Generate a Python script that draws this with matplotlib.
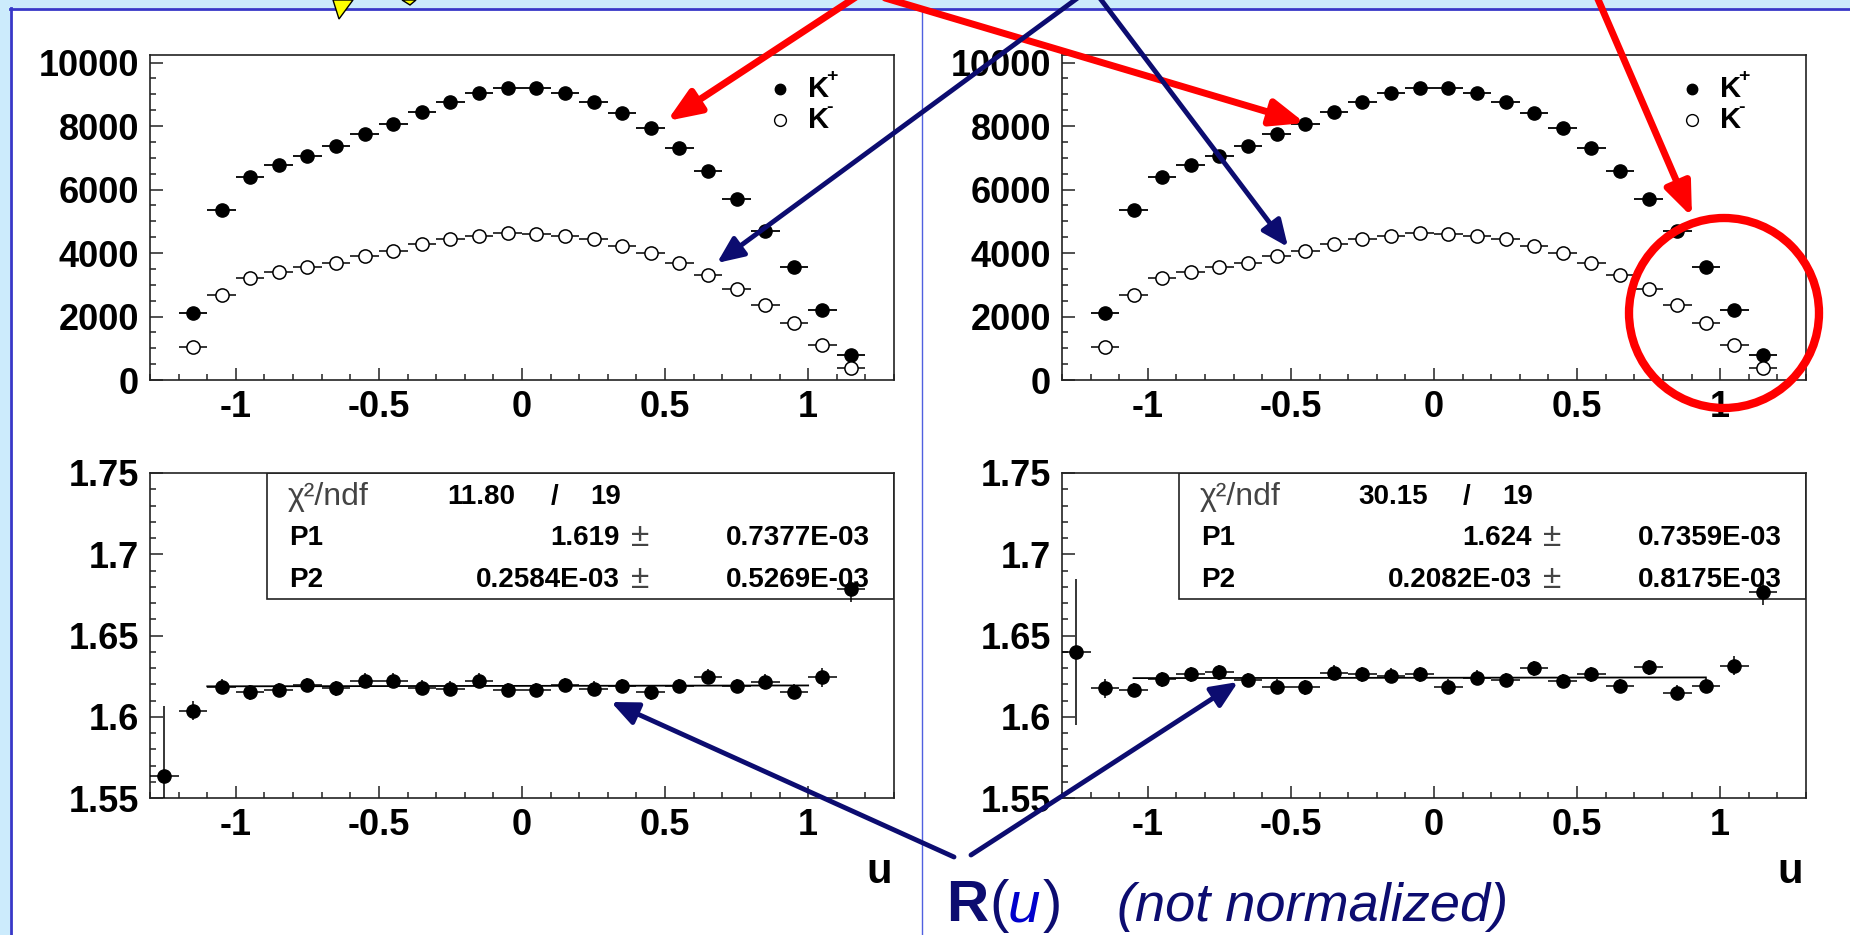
import matplotlib.pyplot as plt
from matplotlib.patches import Rectangle, Ellipse, Polygon
from matplotlib.ticker import FixedLocator, MultipleLocator

plt.rcParams['font.family'] = ['Liberation Sans', 'DejaVu Sans']
plt.rcParams['axes.unicode_minus'] = False

# --- data -------------------------------------------------------------
u_bins = [-1.15, -1.05, -0.95, -0.85, -0.75, -0.65, -0.55, -0.45, -0.35, -0.25, -0.15, -0.05,
          0.05, 0.15, 0.25, 0.35, 0.45, 0.55, 0.65, 0.75, 0.85, 0.95, 1.05, 1.15]
n_kplus = [2100, 5350, 6400, 6770, 7070, 7370, 7740, 8060, 8430, 8770, 9030, 9190,
           9190, 9050, 8770, 8400, 7930, 7300, 6580, 5690, 4700, 3550, 2200, 790]
n_kminus = [1050, 2680, 3220, 3410, 3570, 3700, 3910, 4070, 4270, 4430, 4540, 4620,
            4600, 4550, 4430, 4230, 3990, 3700, 3310, 2860, 2360, 1790, 1100, 390]

u_ratio = [-1.25] + u_bins
ratio_left = [1.5634, 1.6037, 1.6185, 1.6150, 1.6165, 1.6195, 1.6175, 1.6222, 1.6222, 1.6180,
              1.6173, 1.6222, 1.6165, 1.6165, 1.6195, 1.6173, 1.6190, 1.6150, 1.6190, 1.6247,
              1.6190, 1.6216, 1.6154, 1.6243, 1.6786]
ratio_left_err = [0.043, 0.006, 0.0045, 0.0045, 0.0045, 0.0045, 0.0045, 0.0045, 0.0045, 0.0045,
                  0.0045, 0.0045, 0.0045, 0.0045, 0.0045, 0.0045, 0.0045, 0.0045, 0.0045, 0.0045,
                  0.0045, 0.0045, 0.0045, 0.006, 0.008]
ratio_right = [1.6400, 1.6175, 1.6165, 1.6230, 1.6261, 1.6274, 1.6226, 1.6185, 1.6181, 1.6272,
               1.6261, 1.6253, 1.6261, 1.6185, 1.6241, 1.6226, 1.6298, 1.6220, 1.6261, 1.6189,
               1.6305, 1.6148, 1.6191, 1.6315, 1.6765]
ratio_right_err = [0.045, 0.006, 0.0045, 0.0045, 0.0045, 0.0045, 0.0045, 0.0045, 0.0045, 0.0045,
                   0.0045, 0.0045, 0.0045, 0.0045, 0.0045, 0.0045, 0.0045, 0.0045, 0.0045, 0.0045,
                   0.0045, 0.0045, 0.0045, 0.006, 0.008]

# pol1 fit results: chi2, ndf, P1, P1 error, P2, P2 error
fit_left = [11.80, 19, 1.619, 0.7377e-3, 0.2584e-3, 0.5269e-3]
fit_right = [30.15, 19, 1.624, 0.7359e-3, 0.2082e-3, 0.8175e-3]
fit_range_left = [-1.1, 1.0]
fit_range_right = [-1.05, 0.95]

u_ticks = [-1, -0.5, 0, 0.5, 1]
u_tick_labels = ['-1', '-0.5', '0', '0.5', '1']
count_ticks = [0, 2000, 4000, 6000, 8000, 10000]
count_tick_labels = ['0', '2000', '4000', '6000', '8000', '10000']
ratio_ticks = [1.55, 1.6, 1.65, 1.7, 1.75]
ratio_tick_labels = ['1.55', '1.6', '1.65', '1.7', '1.75']

# --- page -------------------------------------------------------------
W, H = 1850, 935
NAVY = '#0c0c70'
fig = plt.figure(figsize=(W / 100, H / 100), dpi=100, facecolor='#ccebfc')

bg = fig.add_axes([0, 0, 1, 1], zorder=0)
bg.set_xlim(0, W)
bg.set_ylim(H, 0)
bg.axis('off')
bg.add_patch(Rectangle((10, 8), W - 10, H - 8, facecolor='white', edgecolor='none'))
bg.plot([10, W], [8.5, 8.5], color='#3838c8', lw=2)
bg.plot([10.5, 10.5], [8, H], color='#3838c8', lw=2)
bg.plot([922, 922], [8, H], color='#5060e0', lw=1)


def px_rect(x0, top, w, h):
    return [x0 / W, (H - top - h) / H, w / W, h / H]


def style_axes(ax, yticks, ylabels, yminor):
    ax.set_xlim(-1.3, 1.3)
    ax.xaxis.set_major_locator(FixedLocator(u_ticks))
    ax.set_xticklabels(u_tick_labels)
    ax.xaxis.set_minor_locator(MultipleLocator(0.1))
    ax.yaxis.set_major_locator(FixedLocator(yticks))
    ax.set_yticklabels(ylabels)
    ax.yaxis.set_minor_locator(MultipleLocator(yminor))
    ax.tick_params(which='both', direction='in', top=False, right=False,
                   width=1.1, labelsize=26, color='#222222')
    ax.tick_params(which='major', length=9)
    ax.tick_params(which='minor', length=4.5)
    ax.tick_params(axis='x', pad=7)
    ax.tick_params(axis='y', pad=8)
    for lab in ax.get_xticklabels() + ax.get_yticklabels():
        lab.set_fontweight('bold')
    for s in ax.spines.values():
        s.set_linewidth(1.2)
        s.set_color('#222222')


def legend_entry(ax, y, filled, sign):
    ax.plot([0.847], [y], 'o', ms=7.5 if filled else 8.5, mec='black', mew=1.0,
            mfc='black' if filled else 'white', transform=ax.transAxes, clip_on=False)
    ax.text(0.885, y, 'K', fontsize=21, fontweight='bold', va='center', transform=ax.transAxes)
    ax.text(0.909, y + 0.04, sign, fontsize=14, fontweight='bold', va='center',
            transform=ax.transAxes)


def counts_panel(x0):
    ax = fig.add_axes(px_rect(x0, 55, 744, 325), zorder=1)
    ax.set_ylim(0, 10240)
    style_axes(ax, count_ticks, count_tick_labels, 500)
    ax.errorbar(u_bins, n_kplus, xerr=0.05, fmt='o', color='black', ms=9.5,
                elinewidth=1.3, capsize=0, zorder=3)
    ax.errorbar(u_bins, n_kminus, xerr=0.05, fmt='o', color='black', mfc='white',
                mec='black', mew=1.1, ms=9.5, elinewidth=1.1, capsize=0, zorder=3)
    legend_entry(ax, 0.895, True, '+')
    legend_entry(ax, 0.80, False, '-')
    return ax


def ratio_panel(x0, vals, errs, fit, fit_range):
    ax = fig.add_axes(px_rect(x0, 473, 744, 325), zorder=1)
    ax.set_ylim(1.55, 1.75)
    style_axes(ax, ratio_ticks, ratio_tick_labels, 0.01)
    chi2, ndf, p1, p1e, p2, p2e = fit
    ax.plot(fit_range, [p1 + p2 * x for x in fit_range], color='black', lw=1.3, zorder=2)
    ax.errorbar(u_ratio, vals, xerr=0.05, yerr=errs, fmt='o', color='black', ms=9.5,
                elinewidth=1.1, capsize=0, zorder=3)
    # fit statistics box
    ax.add_patch(Rectangle((0.157, 0.612), 0.843, 0.388, transform=ax.transAxes,
                           facecolor='white', edgecolor='#222222', lw=1.2, zorder=1))
    kw = dict(transform=ax.transAxes, va='center', fontsize=20, zorder=2)
    ax.text(0.185, 0.926, 'χ²/ndf', color='#444444', **{**kw, 'fontsize': 23})
    ax.text(0.445, 0.926, f'{chi2:.2f}', ha='center', fontweight='bold', **kw)
    ax.text(0.544, 0.926, '/', ha='center', fontweight='bold', **kw)
    ax.text(0.612, 0.926, f'{ndf}', ha='center', fontweight='bold', **kw)
    for y, name, v, e in [(0.80, 'P1', f'{p1:.3f}', f'{p1e * 1e3:.4f}E-03'),
                          (0.671, 'P2', f'{p2 * 1e3:.4f}E-03', f'{p2e * 1e3:.4f}E-03')]:
        ax.text(0.187, y, name, fontweight='bold', **kw)
        ax.text(0.631, y, v, ha='right', fontweight='bold', **kw)
        ax.text(0.659, y, '±', ha='center', color='#444444', **{**kw, 'fontsize': 24})
        ax.text(0.968, y, e, ha='right', fontweight='bold', **kw)
    return ax


counts_panel(150)
counts_panel(1062)
ratio_panel(150, ratio_left, ratio_left_err, fit_left, fit_range_left)
ratio_panel(1062, ratio_right, ratio_right_err, fit_right, fit_range_right)

# --- annotations on top of everything ----------------------------------
ov = fig.add_axes([0, 0, 1, 1], zorder=5)
ov.set_xlim(0, W)
ov.set_ylim(H, 0)
ov.axis('off')

for x in [879, 1790]:
    ov.text(x, 883, 'u', ha='center', va='baseline', fontsize=30, fontweight='bold')


def arrow(start, tip, color, lw, hl, hw):
    ov.annotate('', xy=tip, xytext=start,
                arrowprops=dict(arrowstyle=f'-|>,head_length={hl},head_width={hw}',
                                color=color, lw=lw, shrinkA=0, shrinkB=0))


arrow((859, -5), (667, 121), 'red', 5, 2.0, 0.8)
arrow((885, -2), (1305, 123), 'red', 5, 2.0, 0.8)
arrow((1597, -3), (1692, 217), 'red', 5, 2.0, 0.8)
arrow((1079, -3), (717, 263), NAVY, 3.5, 1.6, 0.7)
arrow((1099, -3), (1288, 247), NAVY, 3.5, 1.6, 0.7)
arrow((954, 857), (611, 702), NAVY, 3.5, 1.6, 0.7)
arrow((971, 855), (1238, 682), NAVY, 3.5, 1.6, 0.7)

ov.add_patch(Ellipse((1724, 313), 190, 190, fill=False, edgecolor='red', lw=6))

# callout tips reaching in from above
ov.add_patch(Polygon([(333, 0), (353, 0), (339, 19)], closed=True,
                     facecolor='#ffff00', edgecolor='black', lw=1))
ov.add_patch(Polygon([(402, 0), (416, 0), (410, 5)], closed=True,
                     facecolor='#ffff00', edgecolor='black', lw=1))

base = 921
ov.text(946, base, 'R', color=NAVY, fontsize=42, fontweight='bold', va='baseline')
ov.text(989, base, '(', color=NAVY, fontsize=42, va='baseline')
ov.text(1008, base, 'u', color='#0000cc', fontsize=42, style='italic', va='baseline')
ov.text(1043, base, ')', color=NAVY, fontsize=42, va='baseline')
ov.text(1117, base, '(not normalized)', color=NAVY, fontsize=39, style='italic', va='baseline')

fig.savefig('out.png', dpi=100, facecolor=fig.get_facecolor())
